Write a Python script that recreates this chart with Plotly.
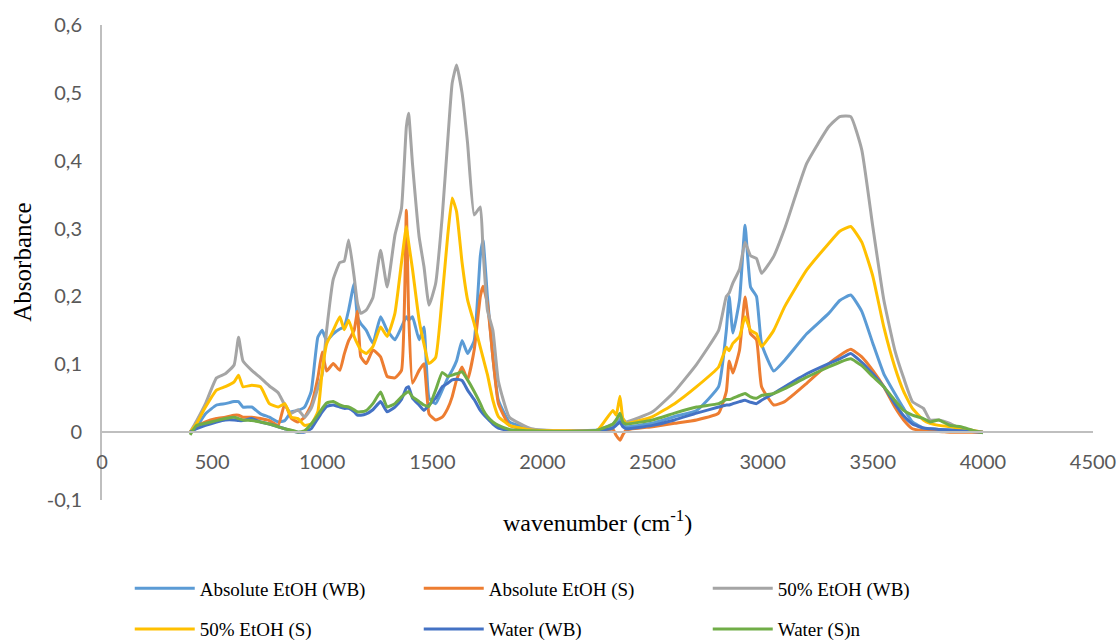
import plotly.graph_objects as go

wavenumber = [400, 430, 470, 520, 560, 600, 620, 640, 680, 720,
              760, 800, 830, 860, 890, 920, 950, 980, 1000, 1020,
              1050, 1080, 1100, 1120, 1145, 1160, 1175, 1200, 1230, 1265,
              1295, 1330, 1360, 1382, 1392, 1410, 1440, 1462, 1485, 1515,
              1545, 1570, 1590, 1610, 1635, 1660, 1690, 1718, 1730, 1750,
              1775, 1800, 1850, 1950, 2100, 2250, 2320, 2335, 2352, 2365,
              2380, 2500, 2600, 2700, 2800, 2835, 2848, 2865, 2895, 2920,
              2945, 2972, 2995, 3050, 3100, 3200, 3300, 3350, 3400, 3450,
              3500, 3550, 3600, 3640, 3680, 3730, 3760, 3800, 3850, 3900,
              3950, 4000]

abs_etoh_wb = [0.0, 0.008, 0.027, 0.040, 0.042, 0.045, 0.045, 0.037, 0.037, 0.027,
               0.022, 0.015, 0.017, 0.030, 0.032, 0.037, 0.060, 0.140, 0.150, 0.135,
               0.145, 0.152, 0.155, 0.180, 0.219, 0.170, 0.160, 0.150, 0.131, 0.170,
               0.150, 0.136, 0.155, 0.170, 0.165, 0.170, 0.136, 0.155, 0.050, 0.042,
               0.062, 0.080, 0.091, 0.105, 0.135, 0.116, 0.135, 0.260, 0.283, 0.200,
               0.110, 0.047, 0.015, 0.004, 0.002, 0.003, 0.008, 0.012, 0.020, 0.010,
               0.008, 0.013, 0.023, 0.032, 0.067, 0.150, 0.200, 0.146, 0.195, 0.305,
               0.214, 0.200, 0.130, 0.090, 0.106, 0.145, 0.175, 0.194, 0.202, 0.178,
               0.131, 0.086, 0.057, 0.035, 0.015, 0.006, 0.005, 0.004, 0.003, 0.002,
               0.001, 0.0]

abs_etoh_s = [0.0, 0.008, 0.015, 0.020, 0.022, 0.025, 0.025, 0.022, 0.022, 0.020,
              0.017, 0.010, 0.042, 0.020, 0.015, 0.022, 0.040, 0.080, 0.118, 0.090,
              0.101, 0.091, 0.115, 0.135, 0.150, 0.178, 0.111, 0.101, 0.121, 0.111,
              0.082, 0.080, 0.091, 0.327, 0.180, 0.072, 0.091, 0.101, 0.027, 0.018,
              0.022, 0.035, 0.052, 0.077, 0.096, 0.077, 0.121, 0.200, 0.215, 0.190,
              0.110, 0.042, 0.010, 0.003, 0.001, 0.002, 0.004, -0.005, -0.012, -0.004,
              0.003, 0.008, 0.013, 0.018, 0.028, 0.060, 0.105, 0.087, 0.121, 0.199,
              0.145, 0.136, 0.067, 0.040, 0.045, 0.072, 0.101, 0.113, 0.122, 0.111,
              0.091, 0.067, 0.037, 0.018, 0.005, 0.002, 0.001, 0.001, 0.0, 0.0,
              0.0, 0.0]

etoh50_wb = [0.0, 0.017, 0.042, 0.080, 0.086, 0.099, 0.140, 0.105, 0.091, 0.080,
             0.068, 0.058, 0.040, 0.028, 0.033, 0.022, 0.035, 0.065, 0.085, 0.150,
             0.225, 0.250, 0.252, 0.283, 0.229, 0.190, 0.175, 0.180, 0.198, 0.268,
             0.214, 0.290, 0.330, 0.450, 0.470, 0.395, 0.288, 0.244, 0.187, 0.219,
             0.318, 0.430, 0.514, 0.541, 0.500, 0.426, 0.320, 0.332, 0.270, 0.180,
             0.150, 0.075, 0.022, 0.005, 0.002, 0.003, 0.012, 0.018, 0.025, 0.020,
             0.015, 0.030, 0.060, 0.100, 0.150, 0.200, 0.205, 0.220, 0.240, 0.280,
             0.260, 0.256, 0.234, 0.259, 0.300, 0.396, 0.450, 0.465, 0.465, 0.416,
             0.303, 0.195, 0.121, 0.080, 0.045, 0.035, 0.018, 0.018, 0.013, 0.005,
             0.003, 0.0]

etoh50_s = [0.0, 0.013, 0.037, 0.062, 0.067, 0.074, 0.084, 0.067, 0.069, 0.067,
            0.042, 0.037, 0.042, 0.022, 0.020, 0.010, 0.012, 0.030, 0.090, 0.130,
            0.150, 0.170, 0.151, 0.165, 0.141, 0.130, 0.121, 0.116, 0.126, 0.155,
            0.141, 0.175, 0.250, 0.303, 0.280, 0.240, 0.165, 0.130, 0.101, 0.110,
            0.200, 0.290, 0.345, 0.325, 0.250, 0.195, 0.160, 0.125, 0.110, 0.085,
            0.047, 0.023, 0.010, 0.003, 0.002, 0.003, 0.032, 0.025, 0.053, 0.020,
            0.013, 0.023, 0.042, 0.067, 0.096, 0.125, 0.120, 0.131, 0.141, 0.170,
            0.150, 0.145, 0.126, 0.150, 0.185, 0.239, 0.278, 0.296, 0.303, 0.280,
            0.230, 0.155, 0.096, 0.060, 0.035, 0.018, 0.013, 0.010, 0.008, 0.005,
            0.003, 0.0]

water_wb = [0.0, 0.005, 0.010, 0.015, 0.018, 0.018, 0.017, 0.017, 0.020, 0.015,
            0.012, 0.008, 0.005, 0.002, 0.0, 0.0, 0.005, 0.020, 0.030, 0.038,
            0.040, 0.037, 0.035, 0.035, 0.030, 0.025, 0.025, 0.027, 0.033, 0.045,
            0.030, 0.037, 0.048, 0.065, 0.067, 0.050, 0.040, 0.032, 0.040, 0.050,
            0.067, 0.072, 0.077, 0.078, 0.076, 0.062, 0.048, 0.032, 0.027, 0.020,
            0.012, 0.006, 0.002, 0.001, 0.001, 0.002, 0.006, 0.010, 0.015, 0.008,
            0.005, 0.010, 0.018, 0.028, 0.037, 0.040, 0.040, 0.042, 0.045, 0.047,
            0.044, 0.042, 0.047, 0.057, 0.067, 0.086, 0.101, 0.108, 0.116, 0.103,
            0.086, 0.067, 0.042, 0.024, 0.012, 0.006, 0.005, 0.004, 0.003, 0.002,
            0.001, 0.0]

water_s = [-0.004, 0.010, 0.013, 0.017, 0.020, 0.022, 0.020, 0.018, 0.017, 0.015,
           0.012, 0.008, 0.005, 0.003, 0.0, 0.002, 0.012, 0.025, 0.035, 0.043,
           0.045, 0.040, 0.038, 0.037, 0.033, 0.030, 0.030, 0.032, 0.042, 0.059,
           0.037, 0.042, 0.052, 0.058, 0.060, 0.052, 0.045, 0.040, 0.038, 0.062,
           0.088, 0.082, 0.084, 0.086, 0.089, 0.077, 0.060, 0.042, 0.033, 0.023,
           0.015, 0.010, 0.004, 0.002, 0.001, 0.003, 0.012, 0.018, 0.028, 0.015,
           0.012, 0.018, 0.028, 0.037, 0.042, 0.048, 0.048, 0.050, 0.054, 0.057,
           0.052, 0.050, 0.054, 0.057, 0.064, 0.081, 0.096, 0.103, 0.108, 0.098,
           0.082, 0.067, 0.047, 0.032, 0.025, 0.020, 0.015, 0.018, 0.010, 0.008,
           0.003, -0.001]

series_names = ["Absolute EtOH (WB)", "Absolute EtOH (S)", "50% EtOH (WB)",
                "50% EtOH (S)", "Water (WB)", "Water (S)n"]
series_values = [abs_etoh_wb, abs_etoh_s, etoh50_wb, etoh50_s, water_wb, water_s]
series_colors = ["#5B9BD5", "#ED7D31", "#A5A5A5", "#FFC000", "#4472C4", "#70AD47"]

x_tickvals = [0, 500, 1000, 1500, 2000, 2500, 3000, 3500, 4000, 4500]
x_ticktext = ["0", "500", "1000", "1500", "2000", "2500", "3000", "3500", "4000", "4500"]
y_tickvals = [-0.1, 0, 0.1, 0.2, 0.3, 0.4, 0.5, 0.6]
y_ticktext = ["-0,1", "0", "0,1", "0,2", "0,3", "0,4", "0,5", "0,6"]

fig = go.Figure()
for i, (name, vals, col) in enumerate(zip(series_names, series_values, series_colors)):
    fig.add_trace(go.Scatter(
        x=wavenumber, y=vals, name=name, mode="lines",
        line=dict(color=col, width=3, shape="spline", smoothing=0.4),
        legend="legend" if i < 3 else "legend2",
    ))

tick_font = dict(family="Lato", size=20, color="#595959")
leg_font = dict(family="Liberation Serif", size=19, color="#000000")

fig.update_layout(
    width=1119, height=642,
    margin=dict(l=102, r=26, t=25, b=142, autoexpand=False),
    paper_bgcolor="white", plot_bgcolor="white",
    showlegend=True,
    xaxis=dict(range=[0, 4500], tickvals=x_tickvals, ticktext=x_ticktext,
               showgrid=False, zeroline=False, showline=True,
               linecolor="#BFBFBF", linewidth=2, ticks="",
               anchor="free", position=0.1 / 0.7, automargin=False,
               tickfont=tick_font, ticklabelstandoff=12),
    yaxis=dict(range=[-0.1, 0.6], tickvals=y_tickvals, ticktext=y_ticktext,
               showgrid=False, zeroline=False, showline=True, automargin=False,
               linecolor="#BFBFBF", linewidth=2, ticks="",
               tickfont=tick_font, ticklabelstandoff=14),
    legend=dict(orientation="h", x=0.028, xanchor="left", y=-0.146, yanchor="top",
                itemwidth=60, entrywidth=214, entrywidthmode="pixels", font=leg_font,
                bgcolor="rgba(0,0,0,0)", traceorder="normal"),
    legend2=dict(orientation="h", x=0.028, xanchor="left", y=-0.232, yanchor="top",
                 itemwidth=60, entrywidth=214, entrywidthmode="pixels", font=leg_font,
                 bgcolor="rgba(0,0,0,0)", traceorder="normal"),
    annotations=[
        dict(text="Absorbance", xref="paper", yref="paper", x=-0.0805, y=0.5,
             xanchor="center", yanchor="middle", textangle=-90, showarrow=False,
             font=dict(family="Liberation Serif", size=25, color="#000000")),
        dict(text="wavenumber (cm<sup>-1</sup>)", xref="paper", yref="paper",
             x=0.5, y=-0.044, xanchor="center", yanchor="middle", showarrow=False,
             font=dict(family="Liberation Serif", size=24, color="#000000")),
    ],
)

fig.write_html("out.html", config={"displayModeBar": False},
               post_script="document.body.style.margin='0';")
